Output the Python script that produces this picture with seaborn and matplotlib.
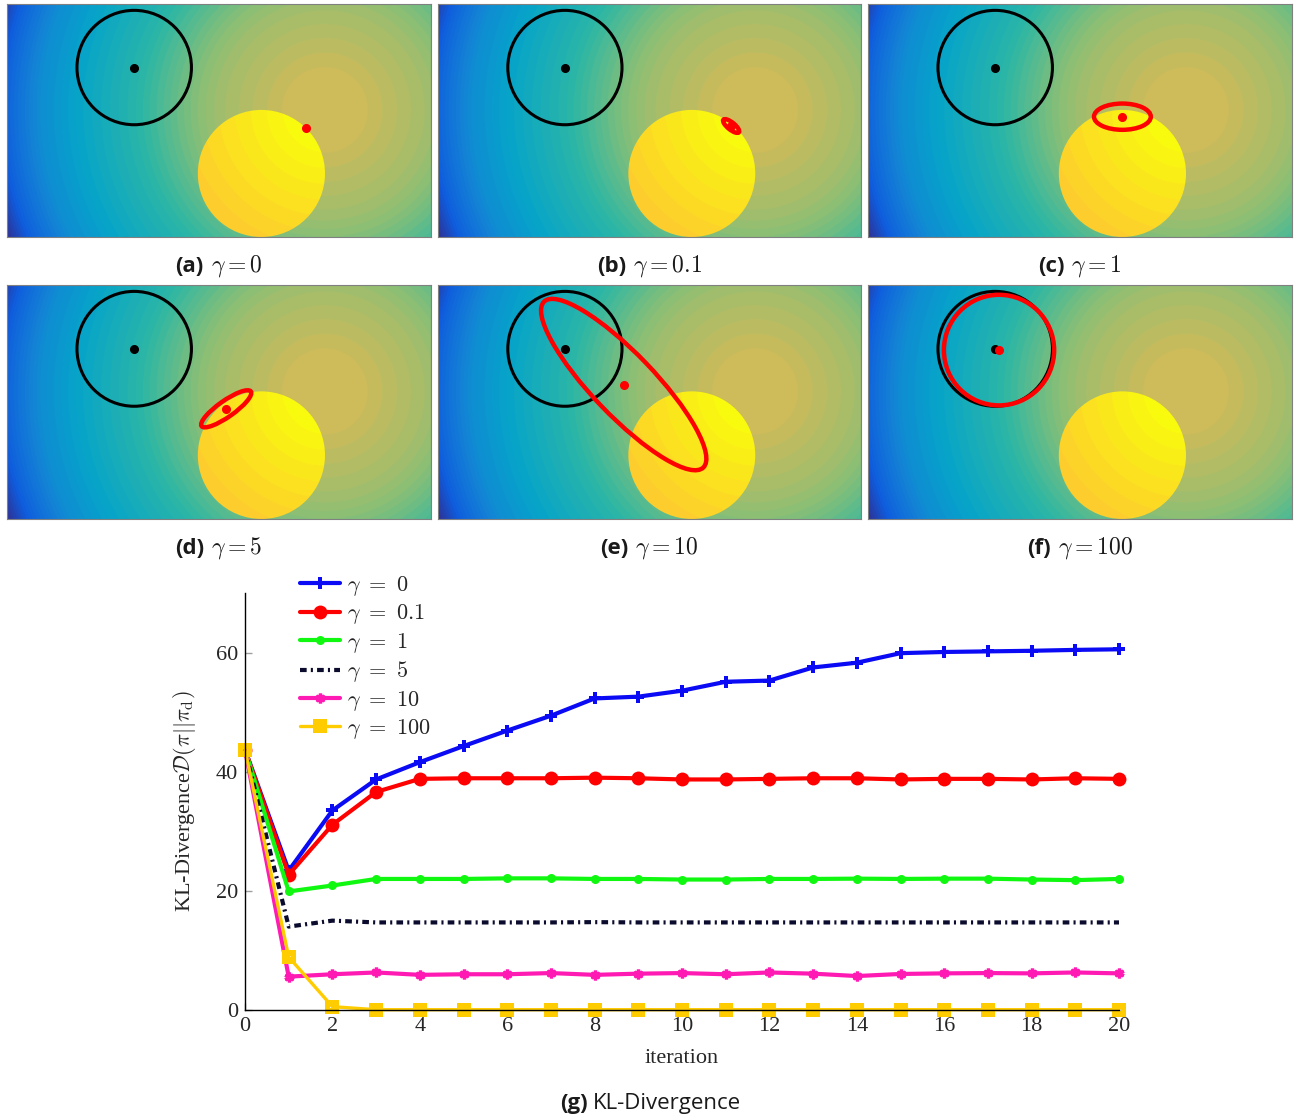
import numpy as np
import matplotlib
matplotlib.use("Agg")
import matplotlib.pyplot as plt
from matplotlib.colors import LinearSegmentedColormap
from matplotlib.patches import Circle, Ellipse
from matplotlib.offsetbox import TextArea, HPacker, AnnotationBbox
from matplotlib.path import Path
import seaborn as sns

# ------------------------------------------------------------------
# KL-divergence per iteration for each regularisation weight gamma
# ------------------------------------------------------------------
iterations = list(range(21))
kl_gamma_0 = [43.7, 23.4, 33.5, 38.7, 41.6, 44.3, 46.9, 49.4, 52.3, 52.6, 53.6,
              55.1, 55.3, 57.5, 58.3, 59.9, 60.1, 60.2, 60.3, 60.45, 60.55]
kl_gamma_01 = [43.7, 22.7, 31.1, 36.6, 38.8, 38.9, 38.9, 38.9, 39.0, 38.9, 38.7,
               38.7, 38.8, 38.9, 38.9, 38.7, 38.8, 38.8, 38.7, 38.9, 38.8]
kl_gamma_1 = [43.7, 19.9, 20.9, 22.0, 22.0, 22.0, 22.1, 22.1, 22.0, 22.0, 21.9,
              21.9, 22.0, 22.0, 22.05, 22.0, 22.05, 22.05, 21.9, 21.8, 22.0]
kl_gamma_5 = [43.7, 14.0, 15.0, 14.7, 14.7, 14.7, 14.7, 14.7, 14.75, 14.7, 14.7,
              14.7, 14.7, 14.7, 14.7, 14.7, 14.7, 14.7, 14.7, 14.7, 14.7]
kl_gamma_10 = [43.7, 5.6, 6.0, 6.3, 5.9, 6.0, 6.0, 6.2, 5.9, 6.1, 6.2,
               6.0, 6.3, 6.1, 5.7, 6.05, 6.15, 6.2, 6.15, 6.3, 6.15]
kl_gamma_100 = [43.7, 8.9, 0.56, 0.05, 0.05, 0.05, 0.05, 0.05, 0.05, 0.05, 0.05,
                0.05, 0.05, 0.05, 0.05, 0.05, 0.05, 0.05, 0.05, 0.05, 0.05]
legend_labels = [r"$\gamma\ =\ 0$", r"$\gamma\ =\ 0.1$", r"$\gamma\ =\ 1$",
                 r"$\gamma\ =\ 5$", r"$\gamma\ =\ 10$", r"$\gamma\ =\ 100$"]

# ------------------------------------------------------------------
# Scene panels: goal distribution, obstacle and fitted Gaussians
# ------------------------------------------------------------------
panel_tags = ["(a)", "(b)", "(c)", "(d)", "(e)", "(f)"]
panel_gammas = ["0", "0.1", "1", "5", "10", "100"]
mean_x = [7.05, 6.93, 6.00, 5.17, 4.39, 3.09]
mean_y = [2.57, 2.62, 2.84, 2.59, 3.16, 3.97]
cov_width = [0.0, 0.47, 1.34, 1.42, 5.42, 2.60]
cov_height = [0.0, 0.17, 0.62, 0.38, 1.46, 2.60]
cov_angle = [0.0, -39.0, 0.0, 35.0, -46.0, 0.0]
goal_center = (3.0, 4.0)
goal_radius = 1.35
obstacle_center = (6.0, 1.5)
obstacle_radius = 1.5
cost_peak = (7.5, 3.0)
scene_w, scene_h = 10.0, 5.5
# radial profile of the cost landscape (distance from peak -> colour level)
profile_dist = [0.0, 1.0, 1.77, 2.5, 2.95, 3.42, 4.5, 5.78, 6.7, 7.5, 8.1]
profile_level = [0.75, 0.735, 0.70, 0.665, 0.63, 0.585, 0.48, 0.385, 0.30, 0.16, 0.02]

parula = LinearSegmentedColormap.from_list(
    "parula",
    ["#352a87", "#0f5cdd", "#1481d6", "#06a4ca", "#2eb7a4",
     "#87bf77", "#d1bb59", "#fec832", "#f9fb0e"], N=64)

sns.set_style("white")
plt.rcParams["font.family"] = ["Liberation Serif", "DejaVu Serif"]
plt.rcParams["mathtext.fontset"] = "cm"

W, H = 1301, 1120
fig = plt.figure(figsize=(W / 100, H / 100), dpi=100)

# cost field shared by all panels
gx = np.linspace(0, scene_w, 1000)
gy = np.linspace(0, scene_h, 550)
GX, GY = np.meshgrid(gx, gy)
dist = np.hypot(GX - cost_peak[0], GY - cost_peak[1])
field = np.interp(dist, profile_dist, profile_level)
d_center = np.hypot(obstacle_center[0] - cost_peak[0], obstacle_center[1] - cost_peak[1])
d_lo, d_hi = d_center - obstacle_radius, d_center + obstacle_radius
obstacle_field = 1.0 - 0.125 * np.clip((dist - d_lo) / (d_hi - d_lo), 0, 1)

col_left = [7, 438, 868]
col_width = [424, 423, 424]
row_top = [4, 285]
row_bottom = [237, 519]

for i in range(6):
    r, c = divmod(i, 3)
    x0, w = col_left[c], col_width[c]
    top, bot = row_top[r], row_bottom[r]
    ax = fig.add_axes([x0 / W, (H - bot) / H, w / W, (bot - top) / H])
    ax.imshow(field, cmap=parula, vmin=0, vmax=1, origin="lower",
              extent=[0, scene_w, 0, scene_h], aspect="auto", zorder=0)
    disk_img = ax.imshow(obstacle_field, cmap=parula, vmin=0, vmax=1, origin="lower",
                         extent=[0, scene_w, 0, scene_h], aspect="auto", zorder=1)
    clip = Circle(obstacle_center, obstacle_radius, transform=ax.transData)
    disk_img.set_clip_path(clip)
    ax.add_patch(Circle(goal_center, goal_radius, fill=False, edgecolor="black",
                        linewidth=2.2, zorder=3))
    ax.plot([goal_center[0]], [goal_center[1]], "o", color="black", ms=5.5, zorder=4)
    if cov_width[i] > 0:
        ax.add_patch(Ellipse((mean_x[i], mean_y[i]), cov_width[i], cov_height[i],
                             angle=cov_angle[i], fill=False, edgecolor="#ff0000",
                             linewidth=3.2, zorder=5))
    ax.plot([mean_x[i]], [mean_y[i]], "o", color="#ff0000", ms=5.5, zorder=6)
    ax.set_xlim(0, scene_w)
    ax.set_ylim(0, scene_h)
    ax.set_xticks([])
    ax.set_yticks([])
    for sp in ax.spines.values():
        sp.set_color("#808080")
        sp.set_linewidth(0.8)
    # caption
    tag = TextArea(panel_tags[i], textprops=dict(family="Open Sans", weight="bold",
                                                 fontsize=16, color="#1a1a1a"))
    val = TextArea(r"$\gamma = %s$" % panel_gammas[i],
                   textprops=dict(fontsize=17, color="#1a1a1a"))
    pack = HPacker(children=[tag, val], align="baseline", pad=0, sep=5)
    ab = AnnotationBbox(pack, (x0 + w / 2, H - (bot + 29)), xycoords="figure pixels",
                        frameon=False, box_alignment=(0.5, 0.5), pad=0)
    fig.add_artist(ab)

# ------------------------------------------------------------------
# KL-divergence line chart
# ------------------------------------------------------------------
ax = fig.add_axes([245 / W, 110 / H, 874 / W, 417 / H])

# square marker with a small slot in the middle
outer = [(-1, -1), (1, -1), (1, 1), (-1, 1), (-1, -1)]
inner = [(-0.3, -0.1), (-0.3, 0.1), (0.3, 0.1), (0.3, -0.1), (-0.3, -0.1)]
slot_square = Path(outer + inner,
                   [Path.MOVETO] + [Path.LINETO] * 3 + [Path.CLOSEPOLY]
                   + [Path.MOVETO] + [Path.LINETO] * 3 + [Path.CLOSEPOLY])

series = [kl_gamma_0, kl_gamma_01, kl_gamma_1, kl_gamma_5, kl_gamma_10, kl_gamma_100]
styles = [
    dict(color="#0a0af5", marker="P", markersize=8, linewidth=3.0, markeredgewidth=0),
    dict(color="#ff0000", marker="o", markersize=10, linewidth=3.0, markeredgewidth=0),
    dict(color="#10f810", marker="o", markersize=6.5, linewidth=3.0, markeredgewidth=0),
    dict(color="#0b0b2e", marker=None, linewidth=3.0, linestyle=(0, (1.6, 1.0, 0.5, 1.0)),
         dash_capstyle="butt"),
    dict(color="#ff1ab3", marker=(6, 2, 0), markersize=7, linewidth=3.0, markeredgewidth=2.4),
    dict(color="#ffcc00", marker=slot_square, markersize=10, linewidth=2.4, markeredgewidth=0),
]
for vals, lab, st in zip(series, legend_labels, styles):
    st = dict(st)
    st.setdefault("markeredgecolor", st["color"])
    sns.lineplot(x=iterations, y=vals, ax=ax, label=lab, estimator=None,
                 clip_on=False, **st)

ax.set_xlim(0, 20)
ax.set_ylim(0, 70)
ax.set_xticks(range(0, 21, 2))
ax.set_yticks([0, 20, 40, 60])
sns.despine(ax=ax)
for side in ["left", "bottom"]:
    ax.spines[side].set_color("black")
    ax.spines[side].set_linewidth(1.0)
ax.tick_params(direction="in", length=5, width=1, color="#a0a0a0",
               labelsize=16, pad=5, left=True, bottom=True)
ax.set_xlabel("iteration", fontsize=16)
ax.set_ylabel(r"KL-Divergence$\mathcal{D}(\pi||\pi_{\mathrm{d}})$", fontsize=16)
ax.xaxis.set_label_coords(0.5, -0.094)
ax.yaxis.set_label_coords(-0.054, 0.5)

handles, labels = ax.get_legend_handles_labels()
ax.legend(handles, labels, loc="upper left", bbox_to_anchor=(300 / W, 1 - 574 / H),
          bbox_transform=fig.transFigure, frameon=False, fontsize=16,
          handlelength=1.8, handletextpad=0.3, labelspacing=0.2,
          borderpad=0, borderaxespad=0)

tag = TextArea("(g)", textprops=dict(family="Open Sans", weight="bold", fontsize=16,
                                     color="#1a1a1a"))
val = TextArea("KL-Divergence", textprops=dict(family="Open Sans", fontsize=16,
                                               color="#1a1a1a"))
pack = HPacker(children=[tag, val], align="baseline", pad=0, sep=4)
fig.add_artist(AnnotationBbox(pack, (W / 2, H - 1103), xycoords="figure pixels",
                              frameon=False, box_alignment=(0.5, 0.5), pad=0))

fig.savefig("out.png", dpi=100)
